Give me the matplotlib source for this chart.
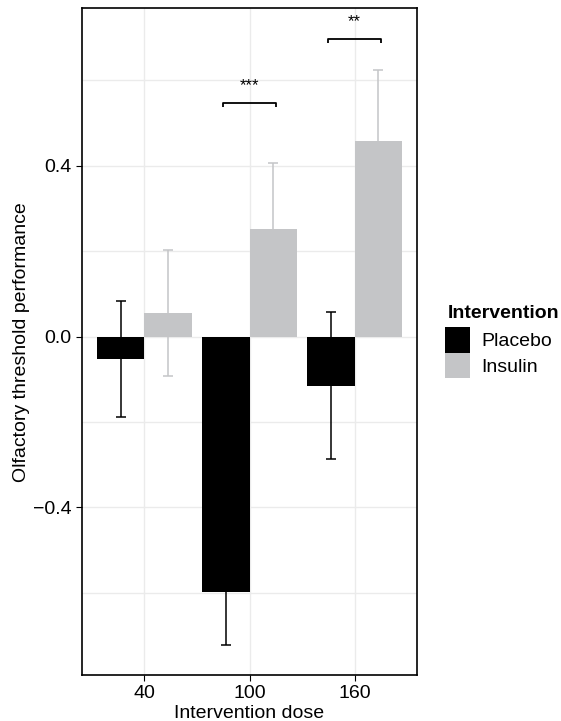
import matplotlib
matplotlib.use("Agg")
import matplotlib.pyplot as plt
from matplotlib.patches import Patch

plt.rcParams['font.family'] = ['Liberation Sans', 'DejaVu Sans']

doses = [40, 100, 160]
groups = ["Placebo", "Insulin"]
placebo_mean = [-0.052, -0.598, -0.115]
placebo_se = [0.136, 0.124, 0.172]
insulin_mean = [0.055, 0.252, 0.459]
insulin_se = [0.147, 0.154, 0.165]
colors = {"Placebo": "#000000", "Insulin": "#C4C5C7"}

# significance brackets: (dose, bracket height, label)
sig_dose = [100, 160]
sig_y = [0.548, 0.697]
sig_label = ["***", "**"]

bar_w = 27  # each dodged bar, in dose units
fig = plt.figure(figsize=(5.61, 7.21), dpi=100)
ax = fig.add_axes([82 / 561, 1 - 675 / 721, (417 - 82) / 561, (675 - 8.3) / 721])

series = [(placebo_mean, placebo_se, -bar_w / 2, "Placebo"),
          (insulin_mean, insulin_se, bar_w / 2, "Insulin")]
for means, ses, off, name in series:
    xs = [d + off for d in doses]
    ax.bar(xs, means, width=bar_w, color=colors[name], zorder=2)
    ax.errorbar(xs, means, yerr=ses, fmt="none", ecolor=colors[name],
                elinewidth=1.1, capsize=3.6, capthick=1.1, zorder=3)

for d, y, lab in zip(sig_dose, sig_y, sig_label):
    tip = 0.01
    ax.plot([d - 15, d - 15, d + 15, d + 15], [y - tip, y, y, y - tip],
            color="black", lw=1.3, zorder=4, solid_capstyle="butt")
    ax.text(d, y + 0.04, lab, ha="center", va="center", fontsize=12, zorder=4)

ax.set_xlim(4.3, 195.7)
ax.set_ylim(-0.793, 0.769)
ax.set_xticks(doses)
ax.set_xticklabels([str(d) for d in doses])
ax.set_yticks([-0.4, 0.0, 0.4])
ax.set_yticklabels(["\u22120.4", "0.0", "0.4"])
ax.set_yticks([-0.6, -0.2, 0.2, 0.6], minor=True)
ax.tick_params(axis="y", which="minor", length=0)
ax.tick_params(which="major", length=4, width=0.8, labelsize=14, colors="black")
ax.grid(True, which="both", axis="y", color="#EBEBEB", lw=1.0, zorder=0)
ax.grid(True, which="major", axis="x", color="#EBEBEB", lw=1.0, zorder=0)
ax.set_axisbelow(True)
for s in ax.spines.values():
    s.set_linewidth(1.2)
    s.set_color("black")

ax.set_xlabel("Intervention dose", fontsize=14, labelpad=2)
ax.set_ylabel("Olfactory threshold performance", fontsize=14, labelpad=2)

# legend: title as separate text so the gap to the keys matches
fig.text(448 / 561, 1 - 313 / 721, "Intervention", fontsize=14,
         fontweight="bold", ha="left", va="center")
handles = [Patch(facecolor=colors[g], edgecolor="none", label=g) for g in groups]
leg = fig.legend(handles=handles, loc="upper left",
                 bbox_to_anchor=(445 / 561, 1 - 327 / 721), frameon=False,
                 fontsize=14, handlelength=1.3, handleheight=1.65,
                 labelspacing=0.0, handletextpad=0.55, borderpad=0,
                 borderaxespad=0)

fig.savefig("out.png", dpi=100)
